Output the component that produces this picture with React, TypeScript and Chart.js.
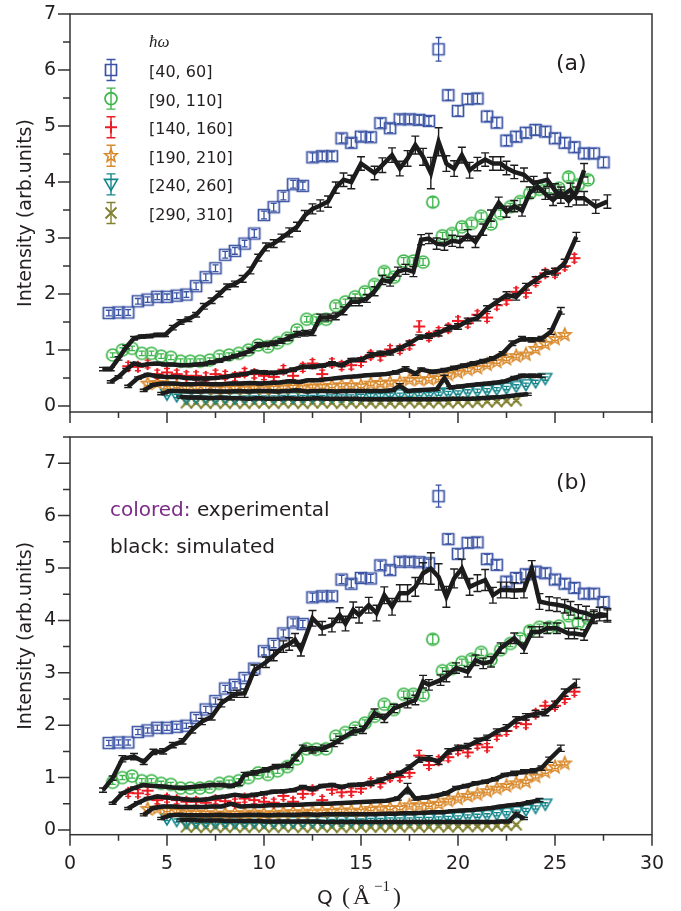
import React, { useEffect, useRef } from 'react';
import { Chart, registerables } from 'chart.js';

Chart.register(...registerables);

type Pt = [number, number, number]; // [Q, intensity, error]

// ---------- experimental data (identical in both panels) ----------
const exp40_60: Pt[] = [
  [2.0,1.66,.05],[2.5,1.67,.05],[3.0,1.67,.05],[3.5,1.87,.05],[4.0,1.90,.05],[4.5,1.95,.05],[5.0,1.95,.05],
  [5.5,1.97,.05],[6.0,1.99,.05],[6.5,2.14,.06],[7.0,2.30,.06],[7.5,2.46,.06],[8.0,2.70,.06],[8.5,2.77,.06],
  [9.0,2.90,.06],[9.5,3.08,.07],[10.0,3.41,.07],[10.5,3.55,.07],[11.0,3.75,.07],[11.5,3.96,.07],[12.0,3.93,.07],
  [12.5,4.44,.08],[13.0,4.46,.08],[13.5,4.46,.08],[14.0,4.78,.08],[14.5,4.70,.08],[15.0,4.81,.08],[15.5,4.80,.08],
  [16.0,5.05,.08],[16.5,4.96,.08],[17.0,5.12,.08],[17.5,5.12,.08],[18.0,5.11,.08],[18.5,5.09,.08],[19.0,6.37,.21],
  [19.5,5.55,.09],[20.0,5.27,.09],[20.5,5.48,.09],[21.0,5.49,.09],[21.5,5.17,.09],[22.0,5.06,.09],[22.5,4.74,.09],
  [23.0,4.81,.09],[23.5,4.88,.09],[24.0,4.93,.09],[24.5,4.90,.09],[25.0,4.78,.09],[25.5,4.70,.09],[26.0,4.62,.09],
  [26.5,4.51,.09],[27.0,4.51,.09],[27.5,4.35,.09],
];
const exp90_110: Pt[] = [
  [2.2,0.91,.04],[2.7,1.00,.04],[3.2,1.03,.04],[3.7,0.94,.04],[4.2,0.94,.04],[4.7,0.89,.04],[5.2,0.87,.04],
  [5.7,0.80,.04],[6.2,0.80,.04],[6.7,0.80,.04],[7.2,0.82,.04],[7.7,0.89,.04],[8.2,0.91,.04],[8.7,0.94,.04],
  [9.2,1.00,.05],[9.7,1.09,.05],[10.2,1.06,.05],[10.7,1.13,.05],[11.2,1.21,.05],[11.7,1.36,.05],[12.2,1.55,.05],
  [12.7,1.54,.05],[13.2,1.55,.05],[13.7,1.79,.05],[14.2,1.86,.05],[14.7,1.95,.05],[15.2,2.04,.06],[15.7,2.17,.06],
  [16.2,2.40,.06],[16.7,2.30,.06],[17.2,2.59,.06],[17.7,2.59,.06],[18.2,2.57,.06],[18.7,3.64,.09],[19.2,3.04,.06],
  [19.7,3.08,.06],[20.2,3.20,.06],[20.7,3.26,.06],[21.2,3.39,.06],[21.7,3.25,.06],[22.2,3.44,.06],[22.7,3.56,.06],
  [23.2,3.65,.06],[23.7,3.80,.06],[24.2,3.87,.06],[24.7,3.87,.06],[25.2,3.89,.06],[25.7,4.09,.07],[26.2,3.95,.07],
  [26.7,4.04,.07],
];
const exp140_160: Pt[] = [
  [3.0,0.71,.07],[3.5,0.70,.07],[4.0,0.75,.07],[4.5,0.57,.07],[5.0,0.60,.07],[5.5,0.57,.07],[6.0,0.54,.07],
  [6.5,0.54,.07],[7.0,0.52,.07],[7.5,0.57,.07],[8.0,0.55,.07],[8.5,0.52,.07],[9.0,0.60,.07],[9.5,0.57,.07],
  [10.0,0.54,.07],[10.5,0.52,.07],[11.0,0.65,.07],[11.5,0.54,.07],[12.0,0.69,.07],[12.5,0.76,.07],[13.0,0.57,.07],
  [13.5,0.77,.07],[14.0,0.72,.07],[14.5,0.73,.07],[15.0,0.79,.07],[15.5,0.91,.07],[16.0,0.89,.07],[16.5,1.01,.07],
  [17.0,1.01,.07],[17.5,1.09,.07],[18.0,1.42,.1],[18.5,1.24,.07],[19.0,1.33,.07],[19.5,1.39,.07],[20.0,1.52,.07],
  [20.5,1.48,.07],[21.0,1.63,.07],[21.5,1.58,.07],[22.0,1.80,.07],[22.5,1.89,.07],[23.0,2.04,.07],[23.5,2.02,.07],
  [24.0,2.22,.07],[24.5,2.37,.07],[25.0,2.37,.07],[25.5,2.50,.07],[26.0,2.64,.07],
];
const exp190_210: Pt[] = [
  [4.0,0.40,.03],[4.5,0.41,.03],[5.0,0.38,.03],[5.5,0.36,.03],[6.0,0.33,.03],[6.5,0.33,.03],[7.0,0.32,.03],
  [7.5,0.31,.03],[8.0,0.31,.03],[8.5,0.32,.03],[9.0,0.31,.03],[9.5,0.33,.03],[10.0,0.31,.03],[10.5,0.32,.03],
  [11.0,0.33,.03],[11.5,0.34,.03],[12.0,0.33,.03],[12.5,0.35,.03],[13.0,0.35,.03],[13.5,0.36,.03],[14.0,0.37,.03],
  [14.5,0.37,.03],[15.0,0.36,.03],[15.5,0.40,.03],[16.0,0.41,.03],[16.5,0.42,.03],[17.0,0.42,.03],[17.5,0.47,.03],
  [18.0,0.47,.03],[18.5,0.48,.03],[19.0,0.50,.03],[19.5,0.56,.03],[20.0,0.60,.03],[20.5,0.65,.03],[21.0,0.68,.03],
  [21.5,0.74,.03],[22.0,0.79,.03],[22.5,0.84,.03],[23.0,0.89,.03],[23.5,0.92,.03],[24.0,1.02,.03],[24.5,1.11,.03],
  [25.0,1.20,.03],[25.5,1.27,.03],
];
const exp240_260: Pt[] = [
  [5.0,0.21,.03],[5.5,0.18,.03],[6.0,0.14,.03],[6.5,0.15,.03],[7.0,0.15,.03],[7.5,0.14,.03],[8.0,0.15,.03],
  [8.5,0.14,.03],[9.0,0.15,.03],[9.5,0.15,.03],[10.0,0.15,.03],[10.5,0.15,.03],[11.0,0.16,.03],[11.5,0.15,.03],
  [12.0,0.16,.03],[12.5,0.16,.03],[13.0,0.16,.03],[13.5,0.17,.03],[14.0,0.17,.03],[14.5,0.17,.03],[15.0,0.18,.03],
  [15.5,0.19,.03],[16.0,0.19,.03],[16.5,0.20,.03],[17.0,0.20,.03],[17.5,0.20,.03],[18.0,0.21,.03],[18.5,0.21,.03],
  [19.0,0.22,.03],[19.5,0.23,.03],[20.0,0.24,.03],[20.5,0.26,.03],[21.0,0.27,.03],[21.5,0.28,.03],[22.0,0.30,.03],
  [22.5,0.32,.03],[23.0,0.35,.03],[23.5,0.38,.03],[24.0,0.43,.03],[24.5,0.49,.03],
];
const exp290_310: Pt[] = [
  [6.0,0.06,.02],[6.5,0.06,.02],[7.0,0.05,.02],[7.5,0.06,.02],[8.0,0.05,.02],[8.5,0.06,.02],[9.0,0.05,.02],
  [9.5,0.06,.02],[10.0,0.06,.02],[10.5,0.05,.02],[11.0,0.06,.02],[11.5,0.06,.02],[12.0,0.05,.02],[12.5,0.06,.02],
  [13.0,0.06,.02],[13.5,0.06,.02],[14.0,0.05,.02],[14.5,0.06,.02],[15.0,0.06,.02],[15.5,0.06,.02],[16.0,0.06,.02],
  [16.5,0.06,.02],[17.0,0.06,.02],[17.5,0.07,.02],[18.0,0.06,.02],[18.5,0.06,.02],[19.0,0.07,.02],[19.5,0.06,.02],
  [20.0,0.07,.02],[20.5,0.07,.02],[21.0,0.07,.02],[21.5,0.08,.02],[22.0,0.08,.02],[22.5,0.09,.02],[23.0,0.10,.02],
];

// ---------- simulated data, panel (a) ----------
const simA40_60: Pt[] = [
  [1.7,0.66,.03],[2.1,0.66,.03],[2.5,0.85,.03],[2.9,1.05,.03],[3.3,1.21,.03],[3.7,1.24,.03],[4.1,1.25,.03],
  [4.5,1.27,.03],[4.9,1.27,.03],[5.3,1.40,.04],[5.7,1.50,.04],[6.1,1.55,.04],[6.5,1.63,.04],[6.9,1.78,.05],
  [7.3,1.88,.05],[7.7,2.00,.05],[8.1,2.13,.05],[8.5,2.18,.05],[8.9,2.27,.06],[9.3,2.42,.06],[9.7,2.65,.06],
  [10.1,2.84,.07],[10.5,2.90,.07],[10.9,3.00,.07],[11.3,3.10,.08],[11.7,3.20,.08],[12.1,3.40,.09],[12.5,3.52,.09],
  [12.9,3.58,.1],[13.3,3.65,.1],[13.7,3.90,.1],[14.1,4.04,.12],[14.5,4.00,.12],[15.0,4.33,.12],[15.7,4.16,.12],
  [16.1,4.30,.13],[16.6,4.48,.13],[17.0,4.24,.13],[17.4,4.42,.14],[17.8,4.66,.16],[18.2,4.45,.15],[18.6,4.16,.28],
  [19.0,4.72,.25],[19.4,4.33,.14],[19.8,4.24,.14],[20.2,4.48,.14],[20.6,4.21,.14],[21.0,4.32,.12],[21.4,4.40,.12],
  [21.8,4.33,.12],[22.2,4.33,.12],[22.5,4.25,.12],[22.9,4.18,.12],[23.4,4.13,.12],[23.9,3.98,.12],[24.6,4.04,.12],
  [25.0,3.85,.12],[25.3,3.74,.12],[25.8,3.86,.12],[26.1,3.71,.12],[26.5,3.71,.12],[27.1,3.56,.12],[27.7,3.65,.12],
];
const simA90_110: Pt[] = [
  [2.1,0.43,.02],[2.5,0.52,.02],[2.9,0.65,.02],[3.3,0.76,.02],[3.7,0.73,.02],[4.1,0.75,.02],[4.5,0.76,.02],
  [4.9,0.74,.02],[5.3,0.74,.02],[5.7,0.73,.02],[6.1,0.73,.02],[6.5,0.74,.02],[6.9,0.75,.03],[7.3,0.78,.03],
  [7.7,0.81,.03],[8.1,0.85,.03],[8.5,0.89,.03],[8.9,0.93,.03],[9.3,0.99,.04],[9.7,1.09,.04],[10.1,1.10,.04],
  [10.5,1.12,.04],[10.9,1.16,.04],[11.3,1.22,.05],[11.7,1.28,.05],[12.1,1.30,.05],[12.5,1.31,.05],[12.9,1.58,.06],
  [13.3,1.58,.06],[13.7,1.60,.06],[14.1,1.70,.07],[14.5,1.86,.07],[14.9,1.86,.07],[15.3,1.92,.07],[15.7,2.05,.08],
  [16.1,2.25,.08],[16.5,2.22,.08],[16.9,2.40,.08],[17.3,2.44,.09],[17.7,2.40,.09],[18.1,2.97,.09],[18.5,2.99,.09],
  [18.9,2.90,.1],[19.3,2.88,.1],[19.7,2.95,.1],[20.1,2.93,.1],[20.5,3.05,.1],[20.9,2.93,.1],[21.3,3.15,.1],
  [21.7,3.40,.1],[22.1,3.63,.1],[22.5,3.47,.1],[22.9,3.57,.1],[23.3,3.49,.1],[23.7,3.81,.1],[24.1,3.92,.1],
  [24.5,3.79,.1],[24.9,3.68,.1],[25.3,3.81,.1],[25.7,3.66,.1],[26.1,3.81,.1],[26.5,4.21,.12],
];
const simA140_160: Pt[] = [
  [3.0,0.35,.02],[3.5,0.50,.02],[4.0,0.56,.02],[4.5,0.53,.02],[5.0,0.52,.02],[5.5,0.52,.02],[6.0,0.50,.02],
  [6.5,0.49,.02],[7.0,0.49,.02],[7.5,0.50,.02],[8.0,0.52,.02],[8.5,0.55,.02],[9.0,0.57,.02],[9.5,0.61,.03],
  [10.0,0.60,.03],[10.5,0.59,.03],[11.0,0.61,.03],[11.5,0.65,.03],[12.0,0.70,.03],[12.5,0.70,.03],[13.0,0.72,.03],
  [13.5,0.76,.03],[14.0,0.73,.03],[14.5,0.82,.03],[15.0,0.83,.03],[15.5,0.91,.04],[16.0,0.94,.04],[16.5,0.95,.04],
  [17.0,1.03,.04],[17.5,1.12,.04],[18.0,1.23,.04],[18.5,1.25,.04],[19.0,1.30,.05],[19.5,1.39,.05],[20.0,1.42,.05],
  [20.5,1.52,.05],[21.0,1.57,.05],[21.5,1.74,.05],[22.0,1.86,.05],[22.5,1.98,.06],[23.0,1.95,.06],[23.5,2.13,.06],
  [24.0,2.25,.06],[24.5,2.37,.06],[25.0,2.40,.06],[25.5,2.55,.07],[26.1,3.02,.08],
];
const simA190_210: Pt[] = [
  [3.8,0.28,.02],[4.3,0.38,.02],[4.8,0.40,.02],[5.3,0.40,.02],[5.8,0.39,.02],[6.3,0.39,.02],[6.8,0.40,.02],
  [7.3,0.39,.02],[7.8,0.39,.02],[8.3,0.40,.02],[8.8,0.40,.02],[9.3,0.41,.02],[9.8,0.40,.02],[10.3,0.41,.02],
  [10.8,0.42,.02],[11.3,0.44,.02],[11.8,0.43,.02],[12.3,0.46,.02],[12.8,0.46,.02],[13.3,0.48,.02],[13.8,0.50,.02],
  [14.3,0.52,.02],[14.8,0.53,.02],[15.3,0.55,.02],[15.8,0.56,.02],[16.3,0.57,.02],[16.8,0.60,.03],[17.3,0.66,.04],
  [17.8,0.58,.03],[18.1,0.65,.03],[18.7,0.61,.03],[19.3,0.64,.03],[19.8,0.68,.03],[20.3,0.72,.03],[20.8,0.76,.03],
  [21.3,0.80,.03],[21.8,0.85,.03],[22.3,0.94,.03],[22.8,1.12,.04],[23.3,1.20,.04],[23.8,1.18,.04],[24.3,1.20,.04],
  [24.8,1.33,.05],[25.3,1.70,.06],
];
const simA240_260: Pt[] = [
  [4.7,0.22,.02],[5.2,0.27,.02],[5.7,0.27,.02],[6.2,0.26,.02],[6.7,0.26,.02],[7.2,0.27,.02],[7.7,0.26,.02],
  [8.2,0.26,.02],[8.7,0.27,.02],[9.2,0.26,.02],[9.7,0.27,.02],[10.2,0.27,.02],[10.7,0.26,.02],[11.2,0.27,.02],
  [11.7,0.28,.02],[12.2,0.26,.02],[12.7,0.27,.02],[13.2,0.27,.02],[13.7,0.26,.02],[14.2,0.27,.02],[14.7,0.27,.02],
  [15.2,0.27,.02],[15.7,0.27,.02],[16.2,0.27,.02],[16.6,0.28,.02],[17.0,0.36,.04],[17.4,0.27,.02],[17.9,0.28,.02],
  [18.4,0.29,.02],[18.9,0.30,.02],[19.3,0.50,.05],[19.6,0.33,.02],[20.1,0.35,.02],[20.6,0.37,.02],[21.1,0.39,.02],
  [21.5,0.40,.02],[22.0,0.42,.02],[22.4,0.44,.02],[22.9,0.50,.03],[23.3,0.54,.03],[23.8,0.54,.03],[24.3,0.54,.03],
];
const simA290_310: Pt[] = [
  [5.7,0.16,.02],[6.2,0.15,.02],[6.7,0.15,.02],[7.2,0.14,.02],[7.7,0.15,.02],[8.2,0.14,.02],[8.7,0.14,.02],
  [9.2,0.13,.02],[9.7,0.14,.02],[10.2,0.13,.02],[10.7,0.13,.02],[11.2,0.14,.02],[11.7,0.13,.02],[12.2,0.13,.02],
  [12.7,0.14,.02],[13.2,0.13,.02],[13.7,0.13,.02],[14.2,0.13,.02],[14.7,0.13,.02],[15.2,0.12,.02],[15.7,0.12,.02],
  [16.2,0.12,.02],[16.7,0.12,.02],[17.2,0.12,.02],[17.7,0.12,.02],[18.2,0.12,.02],[18.7,0.12,.02],[19.2,0.12,.02],
  [19.7,0.13,.02],[20.2,0.13,.02],[20.7,0.13,.02],[21.2,0.14,.02],[21.7,0.15,.02],[22.2,0.16,.02],[22.7,0.18,.02],
  [23.2,0.20,.02],[23.6,0.21,.02],
];

// ---------- simulated data, panel (b) ----------
const simB40_60: Pt[] = [
  [1.7,0.76,.04],[2.2,0.99,.04],[2.7,1.36,.06],[3.3,1.40,.06],[3.8,1.30,.05],[4.3,1.49,.05],[4.8,1.50,.05],
  [5.3,1.62,.05],[5.8,1.69,.05],[6.3,1.91,.06],[6.8,2.07,.06],[7.3,2.16,.06],[7.8,2.42,.07],[8.3,2.55,.07],
  [8.6,2.60,.07],[9.0,2.61,.08],[9.5,3.05,.1],[10.1,3.20,.1],[10.5,3.33,.1],[11.0,3.50,.11],[11.3,3.55,.12],
  [11.6,3.63,.12],[11.9,3.44,.12],[12.5,4.04,.15],[13.0,3.85,.13],[13.5,3.91,.13],[13.9,4.10,.14],[14.2,3.94,.14],
  [14.6,4.20,.15],[14.9,4.10,.15],[15.4,4.29,.15],[15.8,4.14,.15],[16.2,4.48,.16],[16.6,4.26,.16],[17.0,4.52,.16],
  [17.4,4.52,.16],[17.8,4.64,.18],[18.2,4.90,.2],[18.6,4.99,.3],[19.0,4.83,.25],[19.4,4.45,.2],[19.8,4.80,.18],
  [20.2,4.99,.18],[20.6,4.64,.16],[21.0,4.71,.16],[21.4,4.77,.2],[21.8,4.48,.15],[22.2,4.58,.15],[22.5,4.58,.15],
  [22.9,4.57,.15],[23.4,4.58,.15],[23.8,4.99,.15],[24.2,4.36,.15],[24.7,4.32,.13],[25.1,4.30,.13],[25.5,4.27,.13],
  [25.8,4.23,.13],[26.2,4.17,.13],[26.6,4.14,.13],[27.0,4.07,.13],[27.3,4.12,.13],[27.7,4.10,.13],
];
const simB90_110: Pt[] = [
  [2.2,0.51,.02],[2.7,0.70,.02],[3.3,0.80,.02],[3.8,0.86,.02],[4.3,0.84,.02],[4.8,0.83,.02],[5.3,0.81,.02],
  [5.8,0.80,.02],[6.3,0.82,.02],[6.8,0.84,.03],[7.3,0.86,.03],[7.8,0.86,.03],[8.3,0.84,.03],[8.7,0.88,.03],
  [9.0,1.06,.04],[9.5,1.09,.04],[10.1,1.15,.04],[10.6,1.21,.04],[11.3,1.24,.05],[11.6,1.38,.05],[12.0,1.56,.06],
  [12.5,1.53,.06],[13.1,1.56,.06],[13.6,1.65,.06],[13.9,1.72,.07],[14.6,1.88,.07],[15.1,1.91,.07],[15.7,2.23,.08],
  [16.2,2.13,.08],[16.7,2.32,.08],[17.4,2.42,.09],[17.8,2.48,.09],[18.2,2.83,.12],[18.5,2.77,.1],[19.1,2.86,.1],
  [19.4,2.93,.1],[19.9,3.09,.1],[20.5,3.02,.1],[20.9,3.24,.1],[21.3,3.18,.1],[21.7,3.21,.1],[22.2,3.47,.1],
  [22.9,3.66,.1],[23.4,3.47,.1],[23.8,3.78,.1],[24.2,3.78,.1],[24.6,3.85,.1],[25.1,3.85,.1],[25.7,3.75,.1],
  [26.0,3.75,.1],[26.5,3.72,.1],[27.0,4.07,.1],[27.7,4.10,.1],
];
const simB140_160: Pt[] = [
  [3.0,0.41,.02],[3.5,0.52,.02],[4.0,0.60,.02],[4.5,0.64,.02],[5.0,0.62,.02],[5.5,0.60,.02],[6.0,0.58,.02],
  [6.5,0.57,.02],[7.0,0.58,.02],[7.5,0.62,.02],[8.0,0.64,.02],[8.5,0.67,.02],[9.0,0.65,.02],[9.5,0.67,.03],
  [10.0,0.70,.03],[10.5,0.73,.03],[11.0,0.74,.03],[11.5,0.76,.03],[12.0,0.82,.03],[12.5,0.78,.03],[13.0,0.84,.03],
  [13.5,0.86,.03],[14.0,0.82,.03],[14.5,0.86,.03],[15.0,0.87,.03],[15.5,0.89,.04],[16.0,0.95,.04],[16.5,1.02,.04],
  [17.0,1.08,.04],[17.5,1.20,.04],[18.0,1.34,.05],[18.5,1.37,.05],[19.0,1.30,.05],[19.5,1.50,.05],[20.0,1.57,.05],
  [20.5,1.60,.05],[21.0,1.70,.05],[21.5,1.76,.05],[22.0,1.88,.05],[22.5,1.95,.06],[23.0,2.10,.06],[23.5,2.16,.06],
  [24.0,2.22,.06],[24.5,2.24,.06],[25.0,2.40,.06],[25.5,2.62,.07],[26.1,2.80,.08],
];
const simB190_210: Pt[] = [
  [3.8,0.29,.02],[4.3,0.42,.02],[4.8,0.45,.02],[5.3,0.45,.02],[5.8,0.44,.02],[6.3,0.44,.02],[6.8,0.44,.02],
  [7.3,0.45,.02],[7.8,0.45,.02],[8.3,0.50,.02],[8.8,0.45,.02],[9.3,0.46,.02],[9.8,0.46,.02],[10.3,0.47,.02],
  [10.8,0.47,.02],[11.3,0.48,.02],[11.8,0.48,.02],[12.3,0.49,.02],[12.8,0.50,.02],[13.3,0.50,.02],[13.8,0.51,.02],
  [14.3,0.52,.02],[14.8,0.53,.02],[15.3,0.54,.02],[15.8,0.55,.02],[16.3,0.56,.02],[16.9,0.60,.03],[17.4,0.79,.1],
  [17.8,0.60,.03],[18.3,0.62,.03],[18.8,0.65,.03],[19.4,0.70,.03],[19.9,0.80,.03],[20.4,0.84,.03],[20.9,0.89,.03],
  [21.4,0.92,.03],[21.9,0.97,.03],[22.4,1.05,.03],[22.9,1.08,.04],[23.4,1.11,.04],[23.9,1.13,.04],[24.3,1.18,.04],
  [24.7,1.34,.05],[25.3,1.56,.06],
];
const simB240_260: Pt[] = [
  [4.7,0.22,.02],[5.2,0.28,.02],[5.7,0.29,.02],[6.2,0.28,.02],[6.7,0.28,.02],[7.2,0.28,.02],[7.7,0.29,.02],
  [8.2,0.28,.02],[8.7,0.28,.02],[9.2,0.29,.02],[9.7,0.29,.02],[10.2,0.28,.02],[10.7,0.29,.02],[11.2,0.29,.02],
  [11.7,0.29,.02],[12.2,0.30,.02],[12.7,0.29,.02],[13.2,0.30,.02],[13.7,0.30,.02],[14.2,0.30,.02],[14.7,0.30,.02],
  [15.2,0.30,.02],[15.7,0.30,.02],[16.2,0.31,.02],[16.7,0.31,.02],[17.2,0.32,.02],[17.7,0.32,.02],[18.2,0.33,.02],
  [18.7,0.34,.02],[19.2,0.34,.02],[19.7,0.36,.02],[20.2,0.37,.02],[20.7,0.38,.02],[21.2,0.40,.02],[21.7,0.42,.02],
  [22.2,0.45,.02],[22.7,0.47,.02],[23.2,0.49,.03],[23.7,0.53,.03],[24.2,0.57,.03],
];
const simB290_310: Pt[] = [
  [5.7,0.19,.02],[6.2,0.19,.02],[6.7,0.18,.02],[7.2,0.18,.02],[7.7,0.18,.02],[8.2,0.17,.02],[8.7,0.17,.02],
  [9.2,0.17,.02],[9.7,0.17,.02],[10.2,0.16,.02],[10.7,0.16,.02],[11.2,0.16,.02],[11.7,0.16,.02],[12.2,0.16,.02],
  [12.7,0.16,.02],[13.2,0.15,.02],[13.7,0.15,.02],[14.2,0.15,.02],[14.7,0.15,.02],[15.2,0.15,.02],[15.7,0.15,.02],
  [16.2,0.15,.02],[16.7,0.15,.02],[17.2,0.15,.02],[17.7,0.15,.02],[18.2,0.15,.02],[18.7,0.15,.02],[19.2,0.15,.02],
  [19.7,0.15,.02],[20.2,0.15,.02],[20.7,0.15,.02],[21.2,0.15,.02],[21.7,0.15,.02],[22.2,0.16,.02],[22.6,0.16,.02],
  [23.0,0.30,.04],[23.4,0.22,.02],
];

// ---------- labels / ticks ----------
const LEGEND_LABELS = ['[40, 60]', '[90, 110]', '[140, 160]', '[190, 210]', '[240, 260]', '[290, 310]'];
const X_TICKS = [0, 5, 10, 15, 20, 25, 30];
const Y_TICKS = [0, 1, 2, 3, 4, 5, 6, 7];
const Y_TITLE = 'Intensity (arb.units)';

// ---------- styles ----------
const FONT = "'DejaVu Sans', sans-serif";
const SERIF = "'Liberation Serif', 'DejaVu Serif', serif";
const TEXT = '#231f20';
const AXIS = '#333333';
const SIM_COLOR = '#1c1c1c';
const EXP_STYLE = [
  { color: '#3b53a4', marker: 'square' },
  { color: '#3cb54a', marker: 'circle' },
  { color: '#ec1c24', marker: 'plus' },
  { color: '#d9892b', marker: 'star' },
  { color: '#14868b', marker: 'tri' },
  { color: '#80802f', marker: 'x' },
];
const EXPS = [exp40_60, exp90_110, exp140_160, exp190_210, exp240_260, exp290_310];
const SIMS_A = [simA40_60, simA90_110, simA140_160, simA190_210, simA240_260, simA290_310];
const SIMS_B = [simB40_60, simB90_110, simB140_160, simB190_210, simB240_260, simB290_310];

function drawMarker(g: any, kind: string, x: number, y: number, color: string) {
  g.save();
  g.strokeStyle = color;
  g.lineWidth = 1.7;
  g.beginPath();
  if (kind === 'square') g.rect(x - 5.5, y - 5.5, 11, 11);
  else if (kind === 'circle') g.arc(x, y, 6, 0, Math.PI * 2);
  else if (kind === 'plus') {
    g.lineWidth = 2;
    g.moveTo(x - 6, y); g.lineTo(x + 6, y); g.moveTo(x, y - 6); g.lineTo(x, y + 6);
  } else if (kind === 'star') {
    g.lineWidth = 1.6;
    for (let k = 0; k < 10; k++) {
      const r = k % 2 ? 2.9 : 6.6;
      const ang = -Math.PI / 2 + (k * Math.PI) / 5;
      const px = x + r * Math.cos(ang);
      const py = y + r * Math.sin(ang);
      if (k) g.lineTo(px, py); else g.moveTo(px, py);
    }
    g.closePath();
  } else if (kind === 'tri') {
    g.lineWidth = 1.6;
    g.moveTo(x - 6.5, y - 5); g.lineTo(x + 6.5, y - 5); g.lineTo(x, y + 6); g.closePath();
  } else if (kind === 'x') {
    g.lineWidth = 1.8;
    g.moveTo(x - 5.5, y - 5.5); g.lineTo(x + 5.5, y + 5.5); g.moveTo(x + 5.5, y - 5.5); g.lineTo(x - 5.5, y + 5.5);
  }
  g.stroke();
  g.restore();
}

function makeMarkerImage(kind: string, color: string) {
  const c = document.createElement('canvas');
  c.width = 20; c.height = 20;
  drawMarker(c.getContext('2d'), kind, 10, 10, color);
  return c;
}

const errorBars = {
  id: 'errorBars',
  afterDatasetDraw(chart: any, args: any) {
    const ds: any = chart.data.datasets[args.index];
    if (!ds.errs) return;
    const { ctx, chartArea: a } = chart;
    const xs = chart.scales.x, ys = chart.scales.y;
    ctx.save();
    ctx.beginPath();
    ctx.rect(a.left, a.top, a.right - a.left, a.bottom - a.top);
    ctx.clip();
    ctx.strokeStyle = ds.errColor;
    ctx.lineWidth = ds.errWidth;
    ctx.beginPath();
    ds.data.forEach((p: any, i: number) => {
      const e = ds.errs[i];
      const px = xs.getPixelForValue(p.x);
      const t = ys.getPixelForValue(p.y + e);
      const b = ys.getPixelForValue(p.y - e);
      const c = ds.errCap;
      ctx.moveTo(px, t); ctx.lineTo(px, b);
      ctx.moveTo(px - c, t); ctx.lineTo(px + c, t);
      ctx.moveTo(px - c, b); ctx.lineTo(px + c, b);
    });
    ctx.stroke();
    ctx.restore();
  },
};

function framePlugin(yTop: number) {
  return {
    id: 'frame',
    afterDraw(chart: any) {
      const { ctx, chartArea: a } = chart;
      const xs = chart.scales.x, ys = chart.scales.y;
      ctx.save();
      ctx.strokeStyle = AXIS;
      ctx.lineWidth = 1.5;
      ctx.strokeRect(a.left, a.top, a.right - a.left, a.bottom - a.top);
      ctx.beginPath();
      for (let k = 0; k * 0.5 <= yTop + 1e-9; k++) {
        const py = ys.getPixelForValue(k * 0.5);
        const len = k % 2 === 0 ? 12 : 7;
        ctx.moveTo(a.left - len, py); ctx.lineTo(a.left, py);
      }
      for (let k = 0; k * 2.5 <= 30 + 1e-9; k++) {
        const px = xs.getPixelForValue(k * 2.5);
        const len = k % 2 === 0 ? 11 : 6;
        ctx.moveTo(px, a.bottom); ctx.lineTo(px, a.bottom + len);
      }
      ctx.stroke();
      ctx.restore();
    },
  };
}

const annotTop = {
  id: 'annotTop',
  afterDraw(chart: any) {
    const { ctx } = chart;
    ctx.save();
    ctx.fillStyle = TEXT;
    ctx.textBaseline = 'alphabetic';
    ctx.textAlign = 'left';
    ctx.font = `italic 17px ${SERIF}`;
    ctx.fillText('\u0127\u03c9', 149, 47);
    LEGEND_LABELS.forEach((lab, i) => {
      const y = 70 + i * 28.6;
      const st = EXP_STYLE[i];
      ctx.strokeStyle = st.color;
      ctx.lineWidth = 1.4;
      ctx.beginPath();
      ctx.moveTo(111, y - 10.5); ctx.lineTo(111, y + 10.5);
      ctx.moveTo(106.5, y - 10.5); ctx.lineTo(115.5, y - 10.5);
      ctx.moveTo(106.5, y + 10.5); ctx.lineTo(115.5, y + 10.5);
      ctx.stroke();
      drawMarker(ctx, st.marker, 111, y, st.color);
      ctx.fillStyle = TEXT;
      ctx.font = `16px ${FONT}`;
      ctx.fillText(lab, 149, y + 7);
    });
    ctx.font = `22px ${FONT}`;
    ctx.fillText('(a)', 556, 70);
    ctx.restore();
  },
};

const annotBottom = {
  id: 'annotBottom',
  afterDraw(chart: any) {
    const { ctx } = chart;
    ctx.save();
    ctx.textBaseline = 'alphabetic';
    ctx.textAlign = 'left';
    ctx.fillStyle = TEXT;
    ctx.font = `22px ${FONT}`;
    ctx.fillText('(b)', 556, 59);
    ctx.font = `20px ${FONT}`;
    ctx.fillStyle = '#7b2c87';
    const w = ctx.measureText('colored: ').width;
    ctx.fillText('colored: ', 110, 86);
    ctx.fillStyle = TEXT;
    ctx.fillText('experimental', 110 + w, 86);
    ctx.fillText('black: simulated', 110, 122.5);
    // x-axis title  Q (Å^-1)
    const base = 473.5;
    ctx.font = `20px ${FONT}`;
    ctx.fillText('Q', 317, base);
    ctx.font = `24px ${SERIF}`;
    ctx.fillText('(', 342, base);
    ctx.fillText('\u00c5', 353, base);
    ctx.font = `15px ${SERIF}`;
    ctx.fillText('\u22121', 374, base - 13);
    ctx.font = `24px ${SERIF}`;
    ctx.fillText(')', 393, base);
    ctx.restore();
  },
};

function makeConfig(top: boolean): any {
  const sims = top ? SIMS_A : SIMS_B;
  const datasets: any[] = [];
  sims.forEach((s) => {
    datasets.push({
      data: s.map((p) => ({ x: p[0], y: p[1] })),
      errs: s.map((p) => p[2]),
      errColor: SIM_COLOR,
      errWidth: 1.4,
      errCap: 4,
      showLine: true,
      borderColor: SIM_COLOR,
      backgroundColor: SIM_COLOR,
      borderWidth: 4.5,
      pointRadius: 0,
      tension: 0,
      fill: false,
      order: 0,
    });
  });
  EXPS.forEach((s, i) => {
    const st = EXP_STYLE[i];
    datasets.push({
      data: s.map((p) => ({ x: p[0], y: p[1] })),
      errs: s.map((p) => p[2]),
      errColor: st.color,
      errWidth: 1.3,
      errCap: 3,
      showLine: false,
      borderColor: st.color,
      backgroundColor: 'rgba(0,0,0,0)',
      pointStyle: makeMarkerImage(st.marker, st.color),
      pointRadius: 6,
      order: 1,
    });
  });
  const tickFont = { family: FONT, size: 19 };
  return {
    type: 'line',
    data: { datasets },
    options: {
      responsive: false,
      animation: false,
      events: [],
      layout: { padding: { left: 0, right: 29, top: top ? 14 : 6.7, bottom: 0 } },
      plugins: { legend: { display: false }, tooltip: { enabled: false } },
      scales: {
        x: {
          type: 'linear',
          min: 0,
          max: 30,
          grid: { display: false, drawTicks: false },
          border: { display: false },
          afterBuildTicks: (s: any) => { s.ticks = X_TICKS.map((v) => ({ value: v })); },
          afterFit: (s: any) => { s.height = top ? 18 : 76.3; s.paddingLeft = 0; s.paddingRight = 0; },
          ticks: { display: !top, padding: 18, font: tickFont, color: TEXT, maxRotation: 0, autoSkip: false },
        },
        y: {
          type: 'linear',
          min: top ? -0.107 : -0.09,
          max: top ? 7 : 7.5,
          grid: { display: false, drawTicks: false },
          border: { display: false },
          afterBuildTicks: (s: any) => { s.ticks = Y_TICKS.map((v) => ({ value: v })); },
          afterFit: (s: any) => { s.width = 70; s.paddingTop = 0; s.paddingBottom = 0; },
          ticks: { padding: 14, font: tickFont, color: TEXT, autoSkip: false },
          title: { display: true, text: Y_TITLE, font: { family: FONT, size: 19 }, color: TEXT, padding: { top: 15, bottom: 0 } },
        },
      },
    },
    plugins: [errorBars, framePlugin(top ? 7 : 7.5), top ? annotTop : annotBottom],
  };
}

export default function App() {
  const topRef = useRef<HTMLCanvasElement>(null);
  const botRef = useRef<HTMLCanvasElement>(null);
  useEffect(() => {
    const c1 = new Chart(topRef.current as HTMLCanvasElement, makeConfig(true));
    const c2 = new Chart(botRef.current as HTMLCanvasElement, makeConfig(false));
    return () => { c1.destroy(); c2.destroy(); };
  }, []);
  return (
    <div style={{ position: 'absolute', left: 0, top: 0, width: 681, height: 911, background: '#ffffff' }}>
      <canvas ref={topRef} width={681} height={430} style={{ position: 'absolute', left: 0, top: 0 }} />
      <canvas ref={botRef} width={681} height={481} style={{ position: 'absolute', left: 0, top: 430 }} />
    </div>
  );
}
